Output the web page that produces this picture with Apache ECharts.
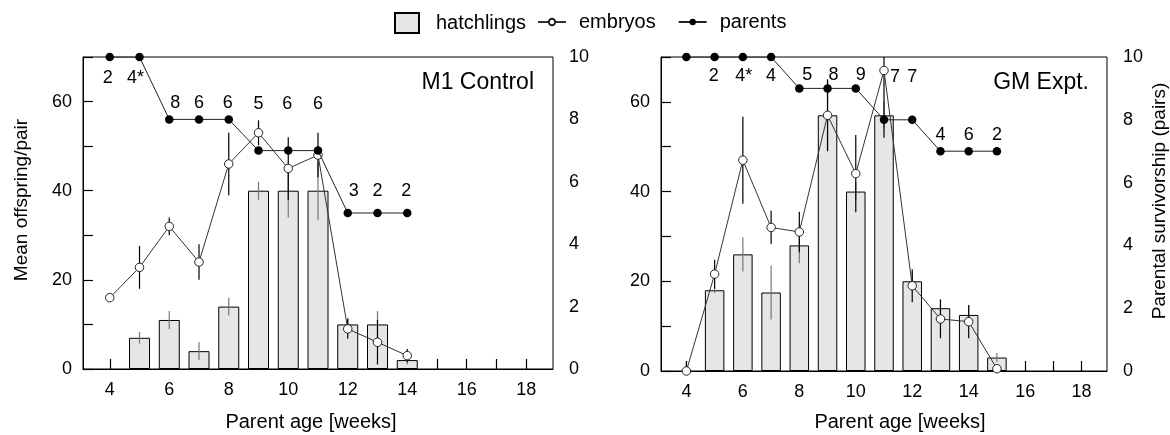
<!DOCTYPE html>
<html><head><meta charset="utf-8">
<script src="https://cdn.jsdelivr.net/npm/echarts@6/dist/echarts.min.js"></script>
<style>html,body{margin:0;padding:0;background:#fff}#c{width:1170px;height:435px}</style>
</head><body><div id="c"></div>
<script>
// ---------- data ----------
const xTickValues = [4,5,6,7,8,9,10,11,12,13,14,15,16,17,18];
const xLabelValues = [4,6,8,10,12,14,16,18];

// M1 Control (left panel)
const weeksL     = [4,5,6,7,8,9,10,11,12,13,14];
const hatchL     = [null,7,11,4,14,40,40,40,10,10,2];
const hatchErrL  = [0,1.3,2,2,2,2,6,6.6,1.5,3,1];
const embryoL    = [16,22.8,32,24,46,53,45,48,9,6,3];
const embryoErrL = [0,4.8,2,4,7,2.8,7,5,2.2,5,1.5];
const parentsL   = [10,10,8,8,8,7,7,7,5,5,5];
const pairsL     = ['2','4*','8','6','6','5','6','6','3','2','2'];

// GM Expt. (right panel)
const weeksR     = [4,5,6,7,8,9,10,11,12,13,14,15];
const hatchR     = [null,18,26,17.5,28,57,40,57,20,14,12.5,3];
const hatchErrR  = [0,0.6,3.8,6,4,8,2,3,2,2,2,1];
const embryoR    = [0,21.6,47,32,31,57,44,67,19,11.6,11,0.5];
const embryoErrR = [2,3.2,9.7,3.7,4.5,8,8.6,15,3.7,4.3,3.7,0.5];
const parentsR   = [10,10,10,10,9,9,9,8,8,7,7,7];
const pairsR     = ['','2','4*','4','5','8','9','7','7','4','6','2'];

// ---------- layout / style ----------
const FONT = "'Liberation Sans', Arial, Helvetica, sans-serif";
const labelOffsetsL = [[-2,21],[-4,21],[6,-16],[0,-16],[-1,-16],[0,-47],[-1,-47],[0,-47],[6,-22],[0,-22],[-1,-22]];
const labelOffsetsR = [[0,0],[-1,19],[1,19],[0,19],[8,-13],[6,-13],[5,-13],[11,-43],[0,-43],[0,-16],[0,-16],[0,-16]];

const chart = echarts.init(document.getElementById('c'), null, {renderer:'canvas'});

function bars(weeks, vals){ const out=[]; weeks.forEach((w,i)=>{ if(vals[i]!=null && vals[i]>0) out.push([w, vals[i]]); }); return out; }
function errs(weeks, vals, e){ const out=[]; weeks.forEach((w,i)=>{ if(vals[i]!=null && e[i]>0) out.push([w, vals[i]-e[i], vals[i]+e[i]]); }); return out; }
function pts(weeks, vals){ return weeks.map((w,i)=>[w, vals[i]]); }
function parentPts(weeks, vals, pairs, offs){
  return weeks.map((w,i)=>({value:[w, vals[i]], label:{show: pairs[i] !== '', formatter: pairs[i], offset: offs[i]}}));
}
function errSeries(name, xi, yi, data, color, z){
  return {type:'custom', name:name+'_err', xAxisIndex:xi, yAxisIndex:yi, clip:true, z:z, silent:true,
    encode:{x:0, y:[1,2]}, data:data,
    renderItem:function(params, api){
      const p1 = api.coord([api.value(0), api.value(1)]);
      const p2 = api.coord([api.value(0), api.value(2)]);
      return {type:'line', shape:{x1:p1[0], y1:p1[1], x2:p2[0], y2:p2[1]}, style:{stroke:color, lineWidth:1.2}};
    }};
}

const xAxisBase = {type:'value', min:3.1, max:18.9,
  axisLine:{show:true, onZero:false, lineStyle:{color:'#000', width:1}},
  axisTick:{show:true, inside:true, length:10, customValues:xTickValues, lineStyle:{color:'#000', width:1.2}},
  axisLabel:{customValues:xLabelValues, fontSize:18, color:'#000', fontFamily:FONT, margin:12},
  splitLine:{show:false}};
const yLeftBase = {type:'value', position:'left', min:0, max:70, interval:10,
  axisLine:{show:true, lineStyle:{color:'#000', width:1}},
  axisTick:{show:true, inside:true, length:10, lineStyle:{color:'#000', width:1.2}},
  axisLabel:{fontSize:18, color:'#000', fontFamily:FONT, margin:11,
    formatter: v => (v % 20 === 0 && v < 70) ? String(v) : ''},
  splitLine:{show:false}};
const yRightBase = {type:'value', position:'right', min:0, max:10, interval:2,
  axisLine:{show:false}, axisTick:{show:false},
  axisLabel:{fontSize:18, color:'#000', fontFamily:FONT, margin:16},
  splitLine:{show:false}};

const barStyle = {color:'#e6e6e6', borderColor:'#000', borderWidth:1};
const embryoStyle = {symbol:'circle', symbolSize:8.5, lineStyle:{color:'#333', width:1},
  itemStyle:{color:'#fff', borderColor:'#222', borderWidth:1}};
const parentStyle = {symbol:'circle', symbolSize:8.5, lineStyle:{color:'#222', width:1},
  itemStyle:{color:'#000'},
  label:{show:true, position:'inside', fontSize:18, color:'#000', fontFamily:FONT}};

const option = {
  animation:false,
  textStyle:{fontFamily:FONT},
  grid:[
    {left:83, top:57, width:470, height:312, show:true, borderColor:'#000', borderWidth:1, backgroundColor:'transparent'},
    {left:661, top:57, width:446, height:314, show:true, borderColor:'#000', borderWidth:1, backgroundColor:'transparent'}
  ],
  legend:[
    {data:[{name:'hatchlings', icon:'rect'}], left:394, top:12, padding:0, itemWidth:24, itemHeight:20,
      selectedMode:false, textStyle:{fontSize:20, color:'#000', fontFamily:FONT, padding:[0,0,0,12]}},
    {data:['embryos','parents'], left:537, top:12, padding:0, itemWidth:28, itemHeight:8, itemGap:22,
      selectedMode:false, textStyle:{fontSize:20, color:'#000', fontFamily:FONT, padding:[0,0,0,8]}}
  ],
  xAxis:[ Object.assign({gridIndex:0}, xAxisBase), Object.assign({gridIndex:1}, xAxisBase) ],
  yAxis:[
    Object.assign({gridIndex:0}, yLeftBase), Object.assign({gridIndex:0}, yRightBase),
    Object.assign({gridIndex:1}, yLeftBase), Object.assign({gridIndex:1}, yRightBase)
  ],
  series:[
    // left panel
    {type:'bar', name:'hatchlings', xAxisIndex:0, yAxisIndex:0, barWidth:21, data:bars(weeksL, hatchL), itemStyle:barStyle, z:2, silent:true},
    errSeries('hatchlings', 0, 0, errs(weeksL, hatchL, hatchErrL), '#777', 3),
    errSeries('embryos', 0, 0, errs(weeksL, embryoL, embryoErrL), '#000', 4),
    Object.assign({type:'line', name:'embryos', xAxisIndex:0, yAxisIndex:0, data:pts(weeksL, embryoL), z:5, silent:true}, embryoStyle),
    Object.assign({type:'line', name:'parents', xAxisIndex:0, yAxisIndex:1, data:parentPts(weeksL, parentsL, pairsL, labelOffsetsL), z:6, silent:true}, parentStyle),
    // right panel
    {type:'bar', name:'hatchlings', xAxisIndex:1, yAxisIndex:2, barWidth:19.5, data:bars(weeksR, hatchR), itemStyle:barStyle, z:2, silent:true},
    errSeries('hatchlings', 1, 2, errs(weeksR, hatchR, hatchErrR), '#777', 3),
    errSeries('embryos', 1, 2, errs(weeksR, embryoR, embryoErrR), '#000', 4),
    Object.assign({type:'line', name:'embryos', xAxisIndex:1, yAxisIndex:2, data:pts(weeksR, embryoR), z:5, silent:true}, embryoStyle),
    Object.assign({type:'line', name:'parents', xAxisIndex:1, yAxisIndex:3, data:parentPts(weeksR, parentsR, pairsR, labelOffsetsR), z:6, silent:true}, parentStyle)
  ],
  graphic:[
    {type:'text', x:534, y:83, silent:true, style:{text:'M1 Control', font:'23px ' + FONT, fill:'#000', textAlign:'right', textVerticalAlign:'middle'}},
    {type:'text', x:1089, y:83, silent:true, style:{text:'GM Expt.', font:'23px ' + FONT, fill:'#000', textAlign:'right', textVerticalAlign:'middle'}},
    {type:'text', x:311, y:422, silent:true, style:{text:'Parent age [weeks]', font:'20px ' + FONT, fill:'#000', textAlign:'center', textVerticalAlign:'middle'}},
    {type:'text', x:900, y:422, silent:true, style:{text:'Parent age [weeks]', font:'20px ' + FONT, fill:'#000', textAlign:'center', textVerticalAlign:'middle'}},
    {type:'text', x:22, y:200, rotation:Math.PI/2, silent:true, style:{text:'Mean offspring/pair', font:'19px ' + FONT, fill:'#000', textAlign:'center', textVerticalAlign:'middle'}},
    {type:'text', x:1160, y:201, rotation:Math.PI/2, silent:true, style:{text:'Parental survivorship (pairs)', font:'19px ' + FONT, fill:'#000', textAlign:'center', textVerticalAlign:'middle'}}
  ]
};
chart.setOption(option);
</script>
</body></html>
